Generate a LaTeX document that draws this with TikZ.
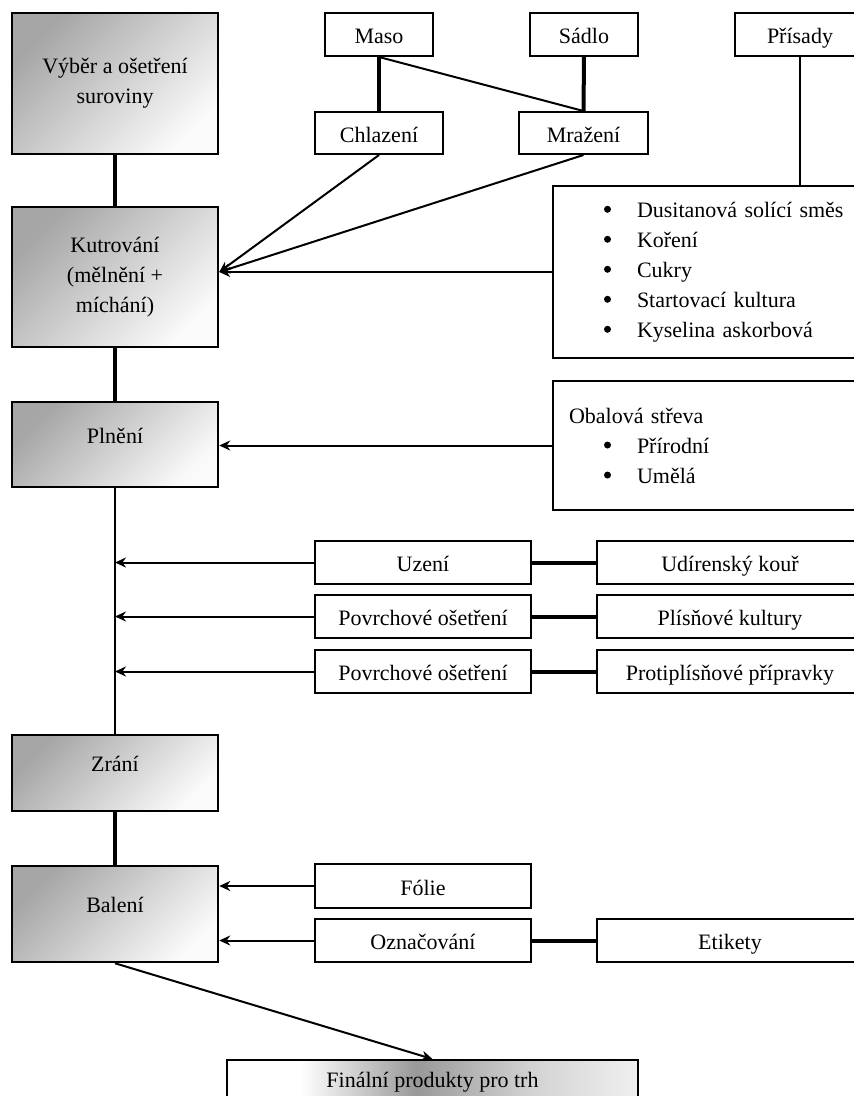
\documentclass[tikz,border=0pt]{standalone}
\usepackage{fontspec}
\setmainfont{Liberation Serif}
\usetikzlibrary{arrows.meta}
\tikzstyle{stage} = [rectangle, minimum width=206pt, align=center, draw=black, line width=2.5pt, top color=gray!70, bottom color=gray!4, shading angle=45]
\tikzstyle{inbox} = [rectangle, minimum height=43pt, text height=19pt, text depth=1pt, text centered, draw=black, line width=2pt, fill=white]
\tikzstyle{listbox} = [rectangle, align=left, draw=black, line width=2pt, fill=white, anchor=west]
\tikzstyle{arrow} = [line width=2pt,->,>={Stealth[length=11pt,width=10pt]}]
\tikzstyle{link} = [line width=4pt]
\tikzstyle{plain} = [line width=2pt]
\pgfdeclarehorizontalshading{finshade}{100bp}{color(0bp)=(white); color(25bp)=(white); color(34bp)=(white); color(48bp)=(gray!80); color(62bp)=(gray!35); color(75bp)=(gray!12); color(100bp)=(gray!12)}
\newcommand{\blt}[1]{\makebox[33pt][l]{\tikz[baseline=0pt]\fill (3.5pt,8pt) circle[radius=3.5pt];}#1}

\begin{document}
\begin{tikzpicture}[x=1pt, y=-1pt, inner sep=0pt, font=\fontsize{22}{30}\selectfont]
\useasboundingbox (0,0) rectangle (854,1096);
\clip (0,0) rectangle (854,1096);

\node (a1) [stage, minimum height=141pt] at (115,83.5) {Výběr a ošetření\\suroviny};
\node (a2) [stage, minimum height=140pt] at (115,277) {Kutrování\\(mělnění +\\míchání)};
\node (a3) [stage, minimum height=85pt, text height=13pt, text depth=16pt] at (115,444.5) {Plnění};
\node (a4) [stage, minimum height=76pt, text height=13pt, text depth=16pt] at (115,773) {Zrání};
\node (a5) [stage, minimum height=96pt, text height=13pt, text depth=16pt] at (115,914) {Balení};

\node (b1) [inbox, minimum width=108pt] at (379,34.5) {Maso};
\node (b2) [inbox, minimum width=108pt] at (584,34.5) {Sádlo};
\node (p) [inbox, minimum width=130pt] at (800,34.5) {Přísady};
\node (c1) [inbox, minimum width=128pt, minimum height=42pt] at (379,133) {Chlazení};
\node (c2) [inbox, minimum width=129pt, minimum height=42pt] at (583.5,133) {Mražení};

\node (l1) [listbox, inner xsep=51pt, text width=258pt, minimum height=172pt] at (552,272)
  {\blt{Dusitanová solící směs}\\ \blt{Koření}\\ \blt{Cukry}\\ \blt{Startovací kultura}\\ \blt{Kyselina askorbová}};
\node (l2) [listbox, inner xsep=16pt, text width=280pt, minimum height=129pt] at (552,445.5)
  {Obalová střeva\\ \hspace*{35pt}\blt{Přírodní}\\ \hspace*{35pt}\blt{Umělá}};

\node (u1) [inbox, minimum width=216pt] at (423,562.5) {Uzení};
\node (u2) [inbox, minimum width=216pt] at (423,616.5) {Povrchové ošetření};
\node (u3) [inbox, minimum width=216pt] at (423,671.5) {Povrchové ošetření};
\node (r1) [inbox, minimum width=266pt] at (730,562.5) {Udírenský kouř};
\node (r2) [inbox, minimum width=266pt] at (730,616.5) {Plísňové kultury};
\node (r3) [inbox, minimum width=266pt] at (730,671.5) {Protiplísňové přípravky};

\node (f1) [inbox, minimum width=216pt, minimum height=44pt] at (423,886) {Fólie};
\node (f2) [inbox, minimum width=216pt] at (423,940.5) {Označování};
\node (r4) [inbox, minimum width=266pt] at (730,940.5) {Etikety};

\node (end) [rectangle, draw=black, line width=2pt, shading=finshade, minimum width=411pt, minimum height=44pt, text height=15pt, text depth=5pt] at (432.5,1082) {Finální produkty pro trh};

\coordinate (kin) at (a2.east |- l1.west);

\draw [link] (a1) -- (a2);
\draw [link] (a2) -- (a3);
\draw [plain] (a3) -- (a4);
\draw [link] (a4) -- (a5);
\draw [link] (b1) -- (c1);
\draw [link] (b2) -- (c2);
\draw [plain] (b1.south) -- (c2.north);
\draw [line width=2.5pt] (p.south) -- (p.south |- l1.north);
\draw [arrow] (c1.south) -- (kin);
\draw [arrow] (c2.south) -- (kin);
\draw [arrow] (l1.west) -- (kin);
\draw [arrow] (l2.west) -- (l2.west -| a3.east);
\draw [arrow] (u1.west) -- (u1.west -| a3.south);
\draw [arrow] (u2.west) -- (u2.west -| a3.south);
\draw [arrow] (u3.west) -- (u3.west -| a3.south);
\draw [link] (u1) -- (r1);
\draw [link] (u2) -- (r2);
\draw [link] (u3) -- (r3);
\draw [arrow] (f1.west) -- (f1.west -| a5.east);
\draw [arrow] (f2.west) -- (f2.west -| a5.east);
\draw [link] (f2) -- (r4);
\draw [arrow] (a5.south) -- (end.north);
\end{tikzpicture}
\end{document}
